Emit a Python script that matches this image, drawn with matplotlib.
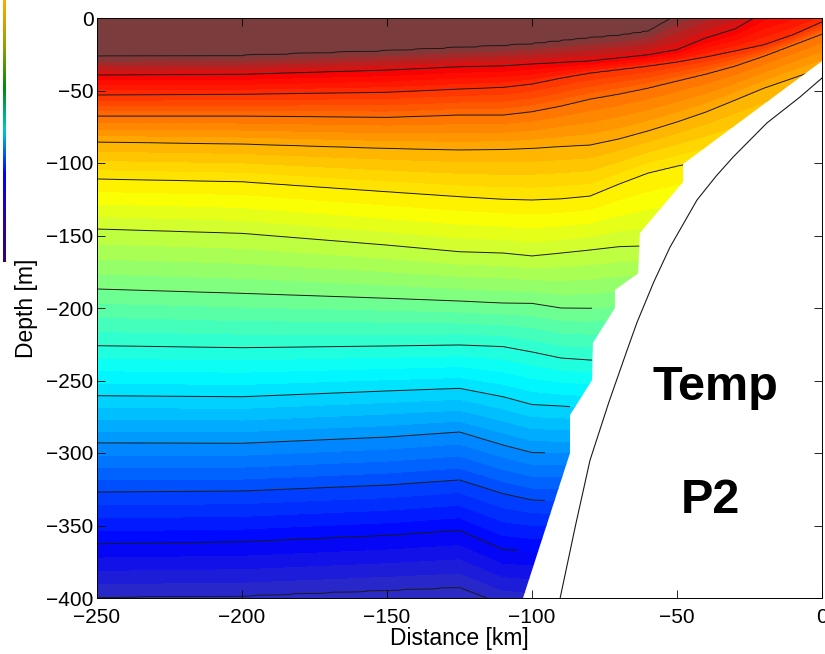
import numpy as np
import matplotlib
matplotlib.use('Agg')
import matplotlib.pyplot as plt
from matplotlib.colors import LinearSegmentedColormap, Normalize
from matplotlib.patches import Polygon

plt.rcParams['font.family'] = ['Liberation Sans', 'DejaVu Sans']
plt.rcParams['xtick.direction'] = 'in'
plt.rcParams['ytick.direction'] = 'in'
plt.rcParams['xtick.labelsize'] = 15
plt.rcParams['ytick.labelsize'] = 15
plt.rcParams['axes.labelsize'] = 16.5

# stations along the section (km) and isotherm depths (m)
stations = [-250, -200, -150, -125, -110, -100, -90, -80, -70, -60, -50, -40, -30, -20, -10, 0]
iso_temp = [14, 13, 12, 11, 10, 9, 8, 7, 6, 5, 4, 3, 2, 1]
t14 = [26.7, 26.0, 22.8, 20.5, 19.2, 18.0, 15.9, 13.8, 12.1, 9.3, -2.0, -10.0, -17.0, -23.0, -28.0, -33.0]
t13 = [39.3, 38.8, 35.9, 33.6, 33.0, 31.7, 30.7, 29.7, 27.6, 25.5, 22.0, 13.8, 7.6, -4.0, -10.0, -15.0]
t12 = [53.1, 52.6, 51.2, 49.0, 47.8, 45.5, 41.4, 37.9, 35.5, 33.1, 30.3, 26.9, 22.8, 18.6, 11.7, 2.8]
t11 = [67.6, 67.6, 68.5, 66.9, 66.9, 64.6, 60.7, 55.9, 52.4, 48.3, 43.4, 38.6, 33.1, 26.2, 18.6, 11.0]
t10 = [85.5, 86.9, 89.9, 91.0, 90.6, 89.9, 88.6, 87.6, 83.4, 77.9, 71.7, 64.8, 56.6, 48.3, 41.4, 34.5]
t9 = [111.0, 112.9, 119.8, 123.2, 125.0, 125.5, 124.7, 122.8, 114.5, 106.9, 102.1, 97.9, 92.4, 87.6, 82.8, 77.2]
t8 = [145.5, 148.5, 156.6, 161.2, 162.1, 164.1, 162.1, 160.0, 157.7, 157.2, 153.1, 147.6, 142.1, 136.6, 131.0, 125.5]
t7 = [186.9, 189.9, 193.3, 195.2, 196.6, 196.8, 200.0, 200.2, 198.6, 195.9, 193.1, 190.3, 187.6, 184.8, 182.1, 179.3]
t6 = [226.0, 227.4, 226.2, 225.5, 226.6, 230.3, 234.5, 235.9, 235.9, 235.0, 234.0, 233.0, 232.0, 231.0, 230.0, 229.0]
t5 = [260.5, 261.2, 257.2, 255.4, 261.2, 266.6, 267.6, 269.0, 269.0, 269.0, 268.8, 268.6, 268.4, 268.2, 268.0, 268.0]
t4 = [293.0, 293.3, 289.0, 285.5, 294.5, 299.7, 300.0, 300.0, 300.0, 300.0, 300.0, 300.0, 300.0, 300.0, 300.0, 300.0]
t3 = [326.9, 326.2, 322.1, 318.6, 328.0, 332.4, 333.1, 333.0, 333.0, 333.0, 333.0, 333.0, 333.0, 333.0, 333.0, 333.0]
t2 = [362.6, 361.2, 356.8, 353.3, 366.5, 367.6, 368.0, 368.0, 368.0, 368.0, 368.0, 368.0, 368.0, 368.0, 368.0, 368.0]
t1 = [399.3, 398.4, 394.5, 392.5, 404.0, 406.0, 407.0, 407.0, 407.0, 407.0, 407.0, 407.0, 407.0, 407.0, 407.0, 407.0]

# colour anchors (temperature -> colour)
cmap_temp = [1.0, 2.0, 5.5, 8.7, 12.8, 14.0]
cmap_rgb = ['#2c2cc4', '#0000ff', '#00ffff', '#ffff00', '#ff0000', '#7a3c3c']

# edge of the data (filled) and of the contour lines
edge_km = [-260, 5, 5, 0, -47.9, -47.9, -62.8, -63.4, -71.4, -71.4, -79.0, -79.3, -86.9, -86.9, -103.1, -104.5, -260]
edge_m = [10, 10, -29.7, -29.7, -100.7, -113.0, -148.3, -176.0, -187.6, -200.0, -224.0, -249.7, -273.8, -300.0, -400.0, -410, -410]
line_edge_km = [-260, 5, 5, 0, -47.9, -47.9, -62.8, -63.4, -79.3, -79.3, -86.9, -86.9, -95.5, -95.5, -103.5, -116.0, -260]
line_edge_m = [10, 10, -29.7, -29.7, -100.7, -113.0, -148.0, -176.0, -190.0, -240.0, -258.0, -275.0, -292.0, -340.0, -362.0, -410, -410]

# bottom profile
bathy_km = [-90.3, -85.0, -80.0, -73.5, -67.2, -63.8, -58.0, -52.4, -43.1, -36.5, -30.7, -19.0, -7.6, 0.0]
bathy_m = [-400, -350, -305, -265, -229, -210, -182, -158, -125.5, -109, -96, -72.4, -54.5, -41.4]

# remnant of a neighbouring colour bar on the left edge
cbar_rgb = ['#ffaa00', '#9aa000', '#008a10', '#00c8c8', '#0000ff', '#2a00a8', '#3c0064']

iso_depth = np.array([t14, t13, t12, t11, t10, t9, t8, t7, t6, t5, t4, t3, t2, t1])
xs = np.linspace(-250, 0, 501)
zs = np.linspace(0, 400, 401)
temps = np.concatenate(([16.0], iso_temp, [0.0]))
T = np.empty((len(zs), len(xs)))
for j, x in enumerate(xs):
    d = np.array([np.interp(x, stations, row) for row in iso_depth])
    d = np.concatenate(([-300.0], d, [700.0]))
    T[:, j] = np.interp(zs, d, temps)

pos = (np.array(cmap_temp) - cmap_temp[0]) / (cmap_temp[-1] - cmap_temp[0])
cmap = LinearSegmentedColormap.from_list('section', list(zip(pos, cmap_rgb)))
cmap.set_over(cmap_rgb[-1])
cmap.set_under(cmap_rgb[0])

fig = plt.figure(figsize=(8.25, 6.54), dpi=100)
ax = fig.add_axes([97 / 825, 1 - 598 / 654, 725 / 825, 580 / 654])

cf = ax.contourf(xs, -zs, T, levels=np.arange(1, 14.001, 0.25), cmap=cmap,
                 norm=Normalize(1, 14), extend='both')
cf.set_clip_path(Polygon(np.column_stack([edge_km, edge_m]), closed=True,
                         transform=ax.transData))
cl = ax.contour(xs, -zs, T, levels=sorted(iso_temp), colors='#1a1a1a', linewidths=0.7)
cl.set_clip_path(Polygon(np.column_stack([line_edge_km, line_edge_m]), closed=True,
                         transform=ax.transData))

ax.plot(bathy_km, bathy_m, color='#1a1a1a', lw=0.8)

ax.text(-36.6, -263.4, 'Temp', ha='center', va='baseline', fontsize=35, fontweight='bold')
ax.text(-38.3, -341.4, 'P2', ha='center', va='baseline', fontsize=35, fontweight='bold')

ax.set_xlim(-250, 0)
ax.set_ylim(-400, 0)
ax.set_xticks(np.arange(-250, 1, 50))
ax.set_yticks(np.arange(-400, 1, 50))
ax.tick_params(top=True, right=True, length=5.5, width=0.6)
ax.tick_params(axis='x', pad=7)
ax.tick_params(axis='y', pad=2.5)
for s in ax.spines.values():
    s.set_linewidth(0.7)
ax.set_xlabel('Distance [km]', labelpad=0)
ax.set_ylabel('Depth [m]', labelpad=6)

cax = fig.add_axes([3 / 825, 1 - 262 / 654, 2.5 / 825, 262 / 654])
cax.imshow(np.linspace(0, 1, 100)[:, None], aspect='auto',
           cmap=LinearSegmentedColormap.from_list('bar', cbar_rgb))
cax.axis('off')

fig.savefig('out.png', dpi=100)
